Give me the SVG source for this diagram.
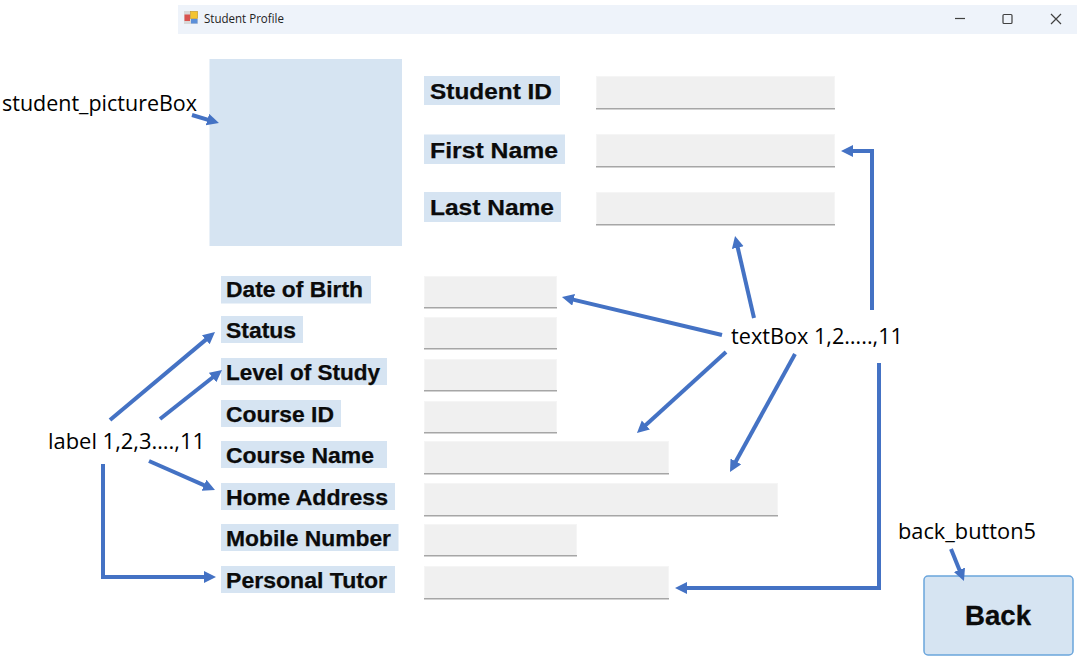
<svg xmlns="http://www.w3.org/2000/svg" width="1078" height="663" viewBox="0 0 1078 663">
<defs>
<style>
.lb{fill:#d6e4f2}
.tb{fill:#f0f0f0;stroke:#f5f5f5;stroke-width:1}
.tl{fill:#a6a6a6}
.t{font-family:"Liberation Sans",Arial,sans-serif;font-weight:700;fill:#0b0b0b;stroke:#0b0b0b;stroke-width:.25}
.s{font-size:22.5px}
.m{font-size:22px}
.a{font-family:"Open Sans","Noto Sans",sans-serif;font-size:21px;fill:#000}
.c{fill:none;stroke:#4472c4;stroke-width:4;marker-end:url(#ah)}
.w{fill:none;stroke:#404040;stroke-width:1.2}
</style>
<marker id="ah" markerUnits="userSpaceOnUse" markerWidth="14" markerHeight="14" refX="6" refY="6" orient="auto"><path d="M0 0L12 6L0 12Z" fill="#4472c4"/></marker>
</defs>
<rect width="1078" height="663" fill="#fff"/>
<g id="titlebar">
<rect x="178" y="5" width="899" height="29" fill="#eef3fa"/>
<rect x="184" y="11" width="14" height="13" fill="#d8d8d8"/><rect x="190.500" y="11.500" width="7" height="7" fill="#f4c430" stroke="#c89a20" stroke-width=".6"/><rect x="184.500" y="14.500" width="5.500" height="6.500" fill="#d9534f"/><rect x="191" y="19" width="6.500" height="4.500" fill="#5b8fd9"/>
<text x="204" y="23" font-family="'Open Sans','Noto Sans',sans-serif" font-size="12" fill="#222" textLength="80" lengthAdjust="spacingAndGlyphs">Student Profile</text>
<path class="w" d="M955 18.500H965"/><rect class="w" x="1003" y="14.500" width="9" height="9" rx="1"/><path class="w" d="M1051 14L1061 24M1061 14L1051 24"/>
</g>
<g id="student_pictureBox"><rect x="209.500" y="59" width="192.500" height="187" fill="#d6e4f2"/></g>
<g id="label_student_id"><rect class="lb" x="424" y="76" width="136" height="29"/><text class="t s" x="430" y="99" textLength="122" lengthAdjust="spacingAndGlyphs">Student ID</text></g>
<g id="label_first_name"><rect class="lb" x="424" y="134.500" width="141" height="29.500"/><text class="t s" x="430" y="158" textLength="128" lengthAdjust="spacingAndGlyphs">First Name</text></g>
<g id="label_last_name"><rect class="lb" x="424" y="192" width="137" height="30"/><text class="t s" x="430" y="215" textLength="124" lengthAdjust="spacingAndGlyphs">Last Name</text></g>
<g id="textbox_1"><rect class="tb" x="596.500" y="76.500" width="238" height="32"/><rect class="tl" x="596" y="108" width="239" height="1.500"/></g>
<g id="textbox_2"><rect class="tb" x="596.500" y="134.500" width="238" height="32"/><rect class="tl" x="596" y="166" width="239" height="1.500"/></g>
<g id="textbox_3"><rect class="tb" x="596.500" y="192.500" width="238" height="32"/><rect class="tl" x="596" y="224" width="239" height="1.500"/></g>
<g id="label_dob"><rect class="lb" x="221" y="276" width="150" height="27.500"/><text class="t m" x="226" y="297" textLength="137" lengthAdjust="spacingAndGlyphs">Date of Birth</text></g>
<g id="label_status"><rect class="lb" x="221" y="316" width="82" height="27"/><text class="t m" x="226" y="338" textLength="70" lengthAdjust="spacingAndGlyphs">Status</text></g>
<g id="label_level"><rect class="lb" x="221" y="358" width="166" height="27"/><text class="t m" x="226" y="380" textLength="154" lengthAdjust="spacingAndGlyphs">Level of Study</text></g>
<g id="label_course_id"><rect class="lb" x="221" y="400" width="120" height="27"/><text class="t m" x="226" y="422" textLength="108" lengthAdjust="spacingAndGlyphs">Course ID</text></g>
<g id="label_course_name"><rect class="lb" x="221" y="441" width="166" height="27"/><text class="t m" x="226" y="463" textLength="148" lengthAdjust="spacingAndGlyphs">Course Name</text></g>
<g id="label_home"><rect class="lb" x="221" y="483" width="174" height="27"/><text class="t m" x="226" y="505" textLength="162" lengthAdjust="spacingAndGlyphs">Home Address</text></g>
<g id="label_mobile"><rect class="lb" x="221" y="524" width="177.500" height="27"/><text class="t m" x="226" y="546" textLength="165" lengthAdjust="spacingAndGlyphs">Mobile Number</text></g>
<g id="label_tutor"><rect class="lb" x="221" y="566" width="174" height="27"/><text class="t m" x="226" y="588" textLength="161" lengthAdjust="spacingAndGlyphs">Personal Tutor</text></g>
<g id="textbox_4"><rect class="tb" x="424.500" y="276.500" width="132" height="31"/><rect class="tl" x="424" y="307" width="133" height="1.500"/></g>
<g id="textbox_5"><rect class="tb" x="424.500" y="317.500" width="132" height="31"/><rect class="tl" x="424" y="348" width="133" height="1.500"/></g>
<g id="textbox_6"><rect class="tb" x="424.500" y="359.500" width="132" height="31"/><rect class="tl" x="424" y="390" width="133" height="1.500"/></g>
<g id="textbox_7"><rect class="tb" x="424.500" y="401.500" width="132" height="31"/><rect class="tl" x="424" y="432" width="133" height="1.500"/></g>
<g id="textbox_8"><rect class="tb" x="424.500" y="441.500" width="244" height="32"/><rect class="tl" x="424" y="473" width="245" height="1.500"/></g>
<g id="textbox_9"><rect class="tb" x="424.500" y="483.500" width="353" height="32"/><rect class="tl" x="424" y="515" width="354" height="1.500"/></g>
<g id="textbox_10"><rect class="tb" x="424.500" y="524.500" width="152" height="31"/><rect class="tl" x="424" y="555" width="153" height="1.500"/></g>
<g id="textbox_11"><rect class="tb" x="424.500" y="566.500" width="244" height="32"/><rect class="tl" x="424" y="598" width="245" height="1.500"/></g>
<g id="back_button5"><rect x="924" y="576" width="149" height="79" rx="4" fill="#d6e4f2" stroke="#6aa5dc" stroke-width="1.500"/><text x="998" y="625" text-anchor="middle" font-family="'Liberation Sans',Arial,sans-serif" font-weight="700" font-size="28" fill="#0b0b0b" stroke="#0b0b0b" stroke-width=".3" textLength="66" lengthAdjust="spacingAndGlyphs">Back</text></g>
<g id="connectors">
<path class="c" d="M192 115L213.200 121.300"/>
<path class="c" d="M754 318L736.400 241.800"/>
<path class="c" d="M722 335L567.800 298.400"/>
<path class="c" d="M726 352L641.400 429"/>
<path class="c" d="M795 354L732.900 466.700"/>
<path class="c" d="M872 310V151H847"/>
<path class="c" d="M879 363V588H681"/>
<path class="c" d="M110 420L210.400 335.900"/>
<path class="c" d="M160 419L217.300 373.700"/>
<path class="c" d="M149 461L209.500 487.600"/>
<path class="c" d="M103 464V577H210"/>
<path class="c" d="M951 549L961.700 575.400"/>
</g>
<g id="annotations">
<text class="a" x="2" y="111" textLength="195" lengthAdjust="spacingAndGlyphs">student_pictureBox</text>
<text class="a" x="731" y="344" textLength="172" lengthAdjust="spacingAndGlyphs">textBox 1,2…..,11</text>
<text class="a" x="48" y="449" textLength="157" lengthAdjust="spacingAndGlyphs">label 1,2,3….,11</text>
<text class="a" x="898" y="539" textLength="138" lengthAdjust="spacingAndGlyphs">back_button5</text>
</g>
</svg>
